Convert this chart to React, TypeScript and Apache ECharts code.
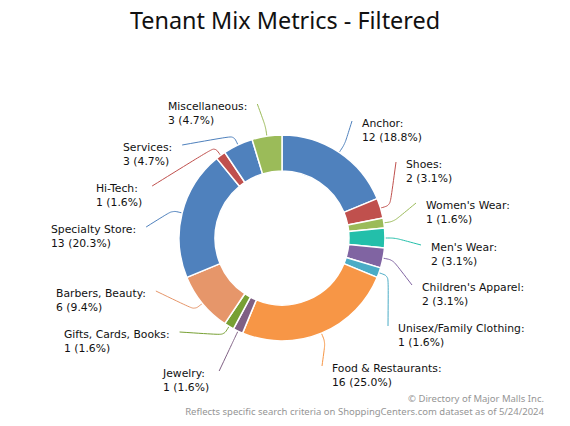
import React, { useEffect, useRef } from "react";
import * as echarts from "echarts";

const CATEGORIES = [
  "Anchor",
  "Shoes",
  "Women's Wear",
  "Men's Wear",
  "Children's Apparel",
  "Unisex/Family Clothing",
  "Food & Restaurants",
  "Jewelry",
  "Gifts, Cards, Books",
  "Barbers, Beauty",
  "Specialty Store",
  "Hi-Tech",
  "Services",
  "Miscellaneous",
];
const VALUES = [12, 2, 1, 2, 2, 1, 16, 1, 1, 6, 13, 1, 3, 3];
const COLORS = [
  "#4f81bd",
  "#c0504d",
  "#9bbb59",
  "#23bfaa",
  "#8064a2",
  "#4bacc6",
  "#f79646",
  "#7f6084",
  "#77a033",
  "#e6966a",
  "#4f81bd",
  "#c0504d",
  "#4f81bd",
  "#9bbb59",
];
// label anchor: left x of text, center y of first line (layout only)
const LABEL_POS: [number, number][] = [
  [362, 123],
  [406, 164],
  [426, 205],
  [431, 247],
  [422, 287],
  [398, 328],
  [332, 368],
  [163, 373],
  [64, 334],
  [56, 293],
  [51, 229],
  [96, 188],
  [123, 147],
  [168, 106],
];

const TITLE = "Tenant Mix Metrics - Filtered";
const FOOTER_1 = "© Directory of Major Malls Inc.";
const FOOTER_2 =
  "Reflects specific search criteria on ShoppingCenters.com dataset as of 5/24/2024";

const CX = 282;
const CY = 238;
const R_IN = 67;
const R_OUT = 103;
const LINE_H = 14;
const FONT = "'Noto Sans', 'DejaVu Sans', sans-serif";
const LABEL_FONT = "'DejaVu Sans', 'Noto Sans', sans-serif";

export default function App() {
  const ref = useRef<HTMLDivElement>(null);

  useEffect(() => {
    document.body.style.margin = "0";
    if (!ref.current) return;
    const chart = echarts.init(ref.current, undefined, { renderer: "svg" });
    const total = VALUES.reduce((a, b) => a + b, 0);
    const midAngles: number[] = [];
    let cum = 0;
    VALUES.forEach((v) => {
      const frac = (cum + v / 2) / total;
      midAngles.push(Math.PI / 2 - frac * Math.PI * 2);
      cum += v;
    });

    const data = CATEGORIES.map((name, i) => ({
      name,
      value: VALUES[i],
      itemStyle: { color: COLORS[i] },
      labelLine: { lineStyle: { color: COLORS[i] } },
    }));

    chart.setOption({
      animation: false,
      title: {
        text: TITLE,
        left: "center",
        top: 3,
        textStyle: {
          fontFamily: FONT,
          fontSize: 23.4,
          fontWeight: "normal",
          color: "#111",
        },
      },
      graphic: [
        {
          type: "text",
          right: 26,
          top: 393,
          style: {
            text: FOOTER_1,
            fill: "#959595",
            font: `9.5px ${FONT}`,
            textAlign: "right",
          },
        },
        {
          type: "text",
          right: 26,
          top: 406,
          style: {
            text: FOOTER_2,
            fill: "#959595",
            font: `9.5px ${FONT}`,
            textAlign: "right",
          },
        },
      ],
      series: [
        {
          type: "pie",
          center: [CX, CY],
          radius: [R_IN, R_OUT],
          startAngle: 90,
          clockwise: true,
          avoidLabelOverlap: false,
          itemStyle: { borderColor: "#fff", borderWidth: 1.5 },
          label: {
            show: true,
            position: "outside",
            color: "#111",
            fontFamily: LABEL_FONT,
            fontSize: 10.8,
            lineHeight: LINE_H,
            align: "left",
            formatter: (p: any) =>
              `${p.name}:\n${p.value} (${((p.value / total) * 100).toFixed(1)}%)`,
          },
          labelLine: { show: true, length: 10, length2: 10, smooth: 0.3, lineStyle: { width: 1 } },
          labelLayout: (params: any) => {
            const i = params.dataIndex;
            const [lx, ly] = LABEL_POS[i];
            const w = params.labelRect.width;
            const a = midAngles[i];
            const p0 = [CX + R_OUT * Math.cos(a), CY - R_OUT * Math.sin(a)];
            const p1 = [CX + (R_OUT + 10) * Math.cos(a), CY - (R_OUT + 10) * Math.sin(a)];
            const right = lx > CX;
            const p2 = right ? [lx - 10, ly - 2] : [lx + w + 10, ly - 2];
            return {
              x: lx,
              y: ly - LINE_H / 2,
              align: "left",
              verticalAlign: "top",
              labelLinePoints: [p0, p1, p2],
            };
          },
          data,
        },
      ],
    });
    return () => chart.dispose();
  }, []);

  return <div ref={ref} style={{ width: 570, height: 426 }} />;
}
